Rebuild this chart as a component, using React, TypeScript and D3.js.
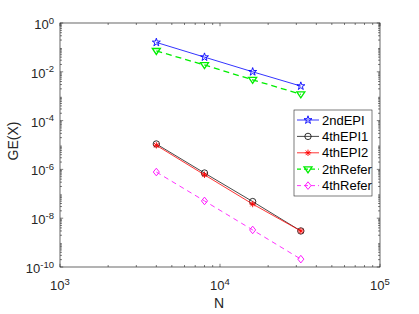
import React from "react"
import * as d3 from "d3"

const N = [4000, 8000, 16000, 32000]
const epi2nd = [0.16, 0.04, 0.01, 0.0026]
const epi4th1 = [1.1e-5, 7.1e-7, 4.8e-8, 3.0e-9]
const epi4th2 = [9.7e-6, 6.0e-7, 3.8e-8, 3.0e-9]
const refer2th = [0.072, 0.019, 0.0047, 0.0012]
const refer4th = [7.8e-7, 5.1e-8, 3.3e-9, 2.1e-10]

const xTickExp = [3, 4, 5]
const yTickExp = [0, -2, -4, -6, -8, -10]

const seriesNames = ["2ndEPI", "4thEPI1", "4thEPI2", "2thRefer", "4thRefer"]

const width = 419
const height = 314
const left = 60
const right = 380
const top = 23
const bottom = 267
const font = "'Liberation Sans', Arial, sans-serif"
const axisColor = "#262626"

const marker = (kind: string, x: number, y: number, color: string, key: string) => {
  if (kind === "star") {
    const p = d3.symbol().type(d3.symbolStar).size(20)()
    return <path key={key} d={p} transform={`translate(${x},${y})`} fill="none" stroke={color} strokeWidth={0.9} />
  }
  if (kind === "circle") {
    return <circle key={key} cx={x} cy={y} r={3.2} fill="none" stroke={color} strokeWidth={0.9} />
  }
  if (kind === "asterisk") {
    const r = 3.2
    const d = r * 0.72
    return (
      <path key={key}
        d={`M${x - r},${y}L${x + r},${y}M${x},${y - r}L${x},${y + r}M${x - d},${y - d}L${x + d},${y + d}M${x - d},${y + d}L${x + d},${y - d}`}
        stroke={color} strokeWidth={0.9} fill="none" />
    )
  }
  if (kind === "tri") {
    const r = 4
    return <path key={key} d={`M${x - r},${y - r * 0.6}L${x + r},${y - r * 0.6}L${x},${y + r * 0.9}Z`} fill="none" stroke={color} strokeWidth={1.3} />
  }
  const r = 3.8
  return <path key={key} d={`M${x},${y - r}L${x + r * 0.8},${y}L${x},${y + r}L${x - r * 0.8},${y}Z`} fill="none" stroke={color} strokeWidth={0.9} />
}

export default function App() {
  const xScale = d3.scaleLog().domain([1e3, 1e5]).range([left, right])
  const yScale = d3.scaleLog().domain([1e-10, 1]).range([bottom, top])

  const series = [
    { name: seriesNames[0], values: epi2nd, color: "#0000ff", dash: "", kind: "star", lw: 0.8 },
    { name: seriesNames[1], values: epi4th1, color: "#1a1a1a", dash: "", kind: "circle", lw: 0.8 },
    { name: seriesNames[2], values: epi4th2, color: "#ff0000", dash: "", kind: "asterisk", lw: 0.8 },
    { name: seriesNames[3], values: refer2th, color: "#00ee00", dash: "6,4", kind: "tri", lw: 1.3 },
    { name: seriesNames[4], values: refer4th, color: "#ff00ff", dash: "5,4", kind: "diamond", lw: 0.8 },
  ]

  const line = d3.line<number>()
    .x((_, i) => xScale(N[i]))
    .y((d) => yScale(d))

  const xMinor: number[] = []
  for (let e = 3; e < 5; e++) for (let m = 2; m <= 9; m++) xMinor.push(m * Math.pow(10, e))
  const yMinor: number[] = []
  for (let e = -10; e < 0; e++) for (let m = 2; m <= 9; m++) yMinor.push(m * Math.pow(10, e))

  const tl = 3.2
  const tlm = 2
  const legX = 294
  const legY = 110
  const rowH = 16.4

  return (
    <div style={{ position: "absolute", left: 0, top: 0 }}>
      <svg width={width} height={height} style={{ display: "block", background: "#fff" }}>
        <rect x={left} y={top} width={right - left} height={bottom - top} fill="#fff" />
        {/* ticks */}
        <g stroke={axisColor} strokeWidth={0.6}>
          {xTickExp.map((e) => {
            const x = xScale(Math.pow(10, e))
            return <g key={"xt" + e}>
              <line x1={x} x2={x} y1={bottom} y2={bottom - tl} />
              <line x1={x} x2={x} y1={top} y2={top + tl} />
            </g>
          })}
          {xMinor.map((v) => {
            const x = xScale(v)
            return <g key={"xm" + v}>
              <line x1={x} x2={x} y1={bottom} y2={bottom - tlm} />
              <line x1={x} x2={x} y1={top} y2={top + tlm} />
            </g>
          })}
          {yTickExp.map((e) => {
            const y = yScale(Math.pow(10, e))
            return <g key={"yt" + e}>
              <line x1={left} x2={left + tl} y1={y} y2={y} />
              <line x1={right} x2={right - tl} y1={y} y2={y} />
            </g>
          })}
          {yMinor.map((v) => {
            const y = yScale(v)
            return <g key={"ym" + v}>
              <line x1={left} x2={left + tlm} y1={y} y2={y} />
              <line x1={right} x2={right - tlm} y1={y} y2={y} />
            </g>
          })}
        </g>
        {/* data */}
        {series.map((s) => (
          <g key={s.name}>
            <path d={line(s.values) || ""} fill="none" stroke={s.color} strokeWidth={s.lw} strokeDasharray={s.dash} />
            {s.values.map((v, i) => marker(s.kind, xScale(N[i]), yScale(v), s.color, s.name + i))}
          </g>
        ))}
        <rect x={left} y={top} width={right - left} height={bottom - top} fill="none" stroke={axisColor} strokeWidth={0.7} />
        {/* tick labels */}
        <g fontFamily={font} fill="#262626">
          {xTickExp.map((e) => (
            <text key={"xl" + e} x={xScale(Math.pow(10, e))} y={bottom + 23} fontSize={13} textAnchor="middle">
              10<tspan fontSize={9.5} dy={-5.5}>{e}</tspan>
            </text>
          ))}
          {yTickExp.map((e) => (
            <text key={"yl" + e} x={left - 6} y={yScale(Math.pow(10, e)) + 6} fontSize={13} textAnchor="end">
              10<tspan fontSize={9.5} dy={-5.5}>{e}</tspan>
            </text>
          ))}
          <text x={(left + right) / 2 - 1} y={308} fontSize={14} textAnchor="middle">N</text>
          <text transform={`translate(${18},${141}) rotate(-90)`} fontSize={14} textAnchor="middle">GE(X)</text>
        </g>
        {/* legend */}
        <g fontFamily={font}>
          <rect x={legX} y={legY} width={78} height={86} fill="#fff" stroke={axisColor} strokeWidth={0.6} />
          {series.map((s, i) => {
            const y = legY + 10 + i * rowH
            return (
              <g key={"lg" + s.name}>
                <line x1={legX + 3} x2={legX + 25} y1={y} y2={y} stroke={s.color} strokeWidth={s.lw} strokeDasharray={s.dash ? "4,3" : ""} />
                {marker(s.kind, legX + 14, y, s.color, "lm" + i)}
                <text x={legX + 28} y={y + 4.5} fontSize={13} fill="#000">{s.name}</text>
              </g>
            )
          })}
        </g>
      </svg>
    </div>
  )
}
